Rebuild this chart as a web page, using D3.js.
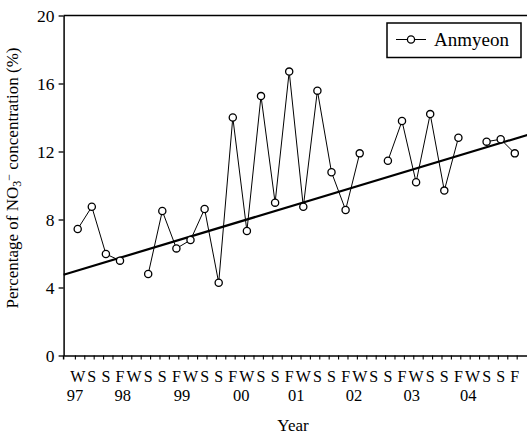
<!DOCTYPE html>
<html>
<head>
<meta charset="utf-8">
<script src="https://cdn.jsdelivr.net/npm/d3@7"></script>
<style>
  body { margin: 0; background: #fff; }
  svg text { font-family: "Liberation Serif", "DejaVu Serif", serif; fill: #000; }
</style>
</head>
<body>
<svg id="chart" width="527" height="435" font-family="Liberation Serif, serif"></svg>
<script>
// season index 0..31 (winter 97 .. fall 04), null = no sample
var seasonLabels = ["W","S","S","F","W","S","S","F","W","S","S","F","W","S","S","F",
                    "W","S","S","F","W","S","S","F","W","S","S","F","W","S","S","F"];
var anmyeon = [7.44, 8.75, 5.97, 5.58, null, 4.79, 8.5, 6.3, 6.79, 8.62, 4.28, 14.0,
               7.32, 15.26, 8.99, 16.7, 8.75, 15.58, 10.78, 8.56, 11.89, null, 11.46, 13.79,
               10.19, 14.2, 9.7, 12.81, null, 12.58, 12.72, 11.89];
var yearLabels = ["97","98","99","00","01","02","03","04"];
var yearAt = [-0.2, 3.2, 7.4, 11.6, 15.5, 19.6, 23.7, 27.7];
// regression line end points (season index, %)
var trendX = [-1, 32];
var trendY = [4.75, 13.0];
var yTicks = [0, 4, 8, 12, 16, 20];

var serif = "'Liberation Serif', 'DejaVu Serif', serif";
var svg = d3.select("#chart");

var x = d3.scaleLinear().domain([-1, 32]).range([63.6, 528.9]);
var y = d3.scaleLinear().domain([0, 20]).range([355.5, 15.5]);

//minor ticks along the bottom
var xTicks = d3.range(48).map(function(k){ return -0.2 + k * 2 / 3; });

var xAxis = svg.append("g")
	.attr("transform", "translate(0," + y(0) + ")")
	.call(d3.axisBottom(x).tickValues(xTicks).tickSize(4).tickSizeOuter(0).tickFormat(""));
xAxis.select(".domain").attr("stroke-width", 1.5);
xAxis.selectAll(".tick line").attr("stroke-width", 1.1);

var yAxis = svg.append("g")
	.attr("transform", "translate(" + x(-1) + ",0)")
	.call(d3.axisLeft(y).tickValues(yTicks).tickSize(5).tickSizeOuter(0).tickPadding(4));
yAxis.attr("font-family", serif).attr("font-size", 17.5);
yAxis.select(".domain").attr("stroke-width", 1.5);
yAxis.selectAll(".tick line").attr("stroke-width", 1.3);
yAxis.selectAll(".tick text")
	.style("font-family", serif)
	.style("font-size", "17.5px")
	.attr("fill", "#000");

//small stub of the y axis below the x axis
svg.append("line")
	.attr("x1", x(-1)).attr("x2", x(-1))
	.attr("y1", y(0)).attr("y2", y(0) + 4)
	.attr("stroke", "#000").attr("stroke-width", 1.5);

//top and right frame
svg.append("line")
	.attr("x1", x(-1)).attr("x2", x(32))
	.attr("y1", y(20)).attr("y2", y(20))
	.attr("stroke", "#000").attr("stroke-width", 1.5);
svg.append("line")
	.attr("x1", x(32)).attr("x2", x(32))
	.attr("y1", y(20)).attr("y2", y(0))
	.attr("stroke", "#000").attr("stroke-width", 1.5);

//season letters and years
svg.append("g").selectAll("text")
	.data(seasonLabels)
	.enter()
	.append("text")
	.attr("x", function(d, i){ return x(i); })
	.attr("y", 381.5)
	.attr("text-anchor", "middle")
	.style("font-family", serif)
	.style("font-size", "16px")
	.text(function(d){ return d; });

svg.append("g").selectAll("text")
	.data(yearLabels)
	.enter()
	.append("text")
	.attr("x", function(d, i){ return x(yearAt[i]); })
	.attr("y", 400.5)
	.attr("text-anchor", "middle")
	.style("font-family", serif)
	.style("font-size", "16.5px")
	.text(function(d){ return d; });

svg.append("text")
	.attr("x", 293).attr("y", 431)
	.attr("text-anchor", "middle")
	.style("font-family", serif)
	.style("font-size", "17px")
	.text("Year");

//y axis title
var yt = svg.append("text")
	.attr("transform", "translate(18," + 178 + ") rotate(-90)")
	.attr("text-anchor", "middle")
	.style("font-family", serif)
	.style("font-size", "17px");
yt.append("tspan").text("Percentage of NO");
yt.append("tspan").attr("baseline-shift", "-25%").style("font-size", "12px").text("3");
yt.append("tspan").attr("baseline-shift", "45%").style("font-size", "12px").text("\u2212");
yt.append("tspan").text(" concentration (%)");

//trend line
svg.append("line")
	.attr("x1", x(trendX[0])).attr("y1", y(trendY[0]))
	.attr("x2", x(trendX[1])).attr("y2", y(trendY[1]))
	.attr("stroke", "#000").attr("stroke-width", 2.2);

//series
var line = d3.line()
	.defined(function(d){ return d != null; })
	.x(function(d, i){ return x(i); })
	.y(function(d){ return y(d); });

svg.append("path")
	.datum(anmyeon)
	.attr("d", line)
	.attr("fill", "none")
	.attr("stroke", "#000")
	.attr("stroke-width", 1);

svg.append("g").selectAll("circle")
	.data(anmyeon.map(function(v, i){ return {i: i, v: v}; }).filter(function(d){ return d.v != null; }))
	.enter()
	.append("circle")
	.attr("cx", function(d){ return x(d.i); })
	.attr("cy", function(d){ return y(d.v); })
	.attr("r", 3.6)
	.attr("fill", "#fff")
	.attr("stroke", "#000")
	.attr("stroke-width", 1.3);

//legend
var lgd = svg.append("g");
lgd.append("rect")
	.attr("x", 387).attr("y", 23)
	.attr("width", 134).attr("height", 34.5)
	.attr("fill", "#fff")
	.attr("stroke", "#000").attr("stroke-width", 1.5);
lgd.append("line")
	.attr("x1", 396).attr("x2", 426)
	.attr("y1", 39.5).attr("y2", 39.5)
	.attr("stroke", "#000").attr("stroke-width", 1);
lgd.append("circle")
	.attr("cx", 411).attr("cy", 39.5).attr("r", 3.6)
	.attr("fill", "#fff").attr("stroke", "#000").attr("stroke-width", 1.3);
lgd.append("text")
	.attr("x", 434).attr("y", 46)
	.style("font-family", serif)
	.style("font-size", "19px")
	.text("Anmyeon");
</script>
</body>
</html>
